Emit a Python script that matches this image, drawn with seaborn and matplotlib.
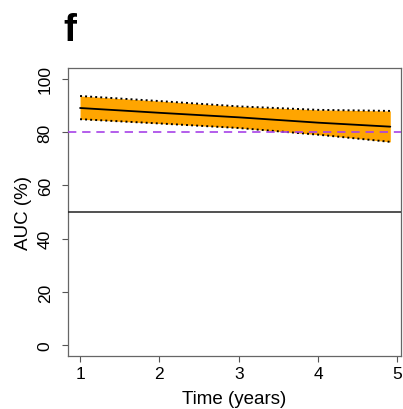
import matplotlib
matplotlib.use("Agg")
import matplotlib.pyplot as plt
import seaborn as sns
import pandas as pd

# Data
time_years = [1.0, 2.0, 3.0, 4.0, 4.91]
auc_mean = [89.0, 87.2, 85.5, 83.5, 82.0]
auc_upper = [93.5, 91.6, 89.6, 88.3, 87.9]
auc_lower = [84.8, 83.2, 81.5, 79.0, 76.3]
ref_good = 80
ref_chance = 50
x_ticks = [1, 2, 3, 4, 5]
y_ticks = [0, 20, 40, 60, 80, 100]
panel_label = "f"
x_label = "Time (years)"
y_label = "AUC (%)"

sns.set_style("ticks")
plt.rcParams['font.family'] = ['Liberation Sans', 'DejaVu Sans']
plt.rcParams['text.color'] = 'black'
plt.rcParams['axes.labelcolor'] = 'black'
plt.rcParams['xtick.labelcolor'] = 'black'
plt.rcParams['ytick.labelcolor'] = 'black'

df = pd.DataFrame({"time": time_years, "auc": auc_mean,
                   "upper": auc_upper, "lower": auc_lower})

fig = plt.figure(figsize=(4.03, 4.10), dpi=100)
ax = fig.add_axes([68/403, 1-357/410, (401-68)/403, (357-69)/410])

ax.fill_between(df["time"], df["lower"], df["upper"], color="#FFA500", lw=0, zorder=1)
sns.lineplot(data=df, x="time", y="upper", ax=ax, color="black", lw=1.4,
             linestyle=(0, (1, 1.6)), zorder=3)
sns.lineplot(data=df, x="time", y="lower", ax=ax, color="black", lw=1.4,
             linestyle=(0, (1, 1.6)), zorder=3)
sns.lineplot(data=df, x="time", y="auc", ax=ax, color="black", lw=1.3, zorder=4)

ax.axhline(ref_good, color="#A742E8", lw=1.2, linestyle=(0, (5, 3.5)), zorder=5)
ax.axhline(ref_chance, color="#222222", lw=1.1, zorder=5)

ax.set_xlim(0.848, 5.045)
ax.set_ylim(-4, 104)
ax.set_xticks(x_ticks)
ax.set_yticks(y_ticks)
ax.set_xticklabels([str(v) for v in x_ticks], fontsize=12.5)
ax.set_yticklabels([str(v) for v in y_ticks], fontsize=12.5, rotation=90, va="center")
ax.tick_params(axis="both", length=4.5, width=0.8, color="#555555")
ax.tick_params(axis="y", pad=6.5)
ax.tick_params(axis="x", pad=3)
for s in ax.spines.values():
    s.set_color("#666666")
    s.set_linewidth(0.9)

ax.set_xlabel(x_label, fontsize=13.5, labelpad=6)
ax.set_ylabel(y_label, fontsize=13.5, labelpad=4)

fig.text(63/403, 1-41/410, panel_label, fontsize=28, fontweight="bold",
         ha="left", va="baseline", color="black")

fig.savefig("out.png", dpi=100)
